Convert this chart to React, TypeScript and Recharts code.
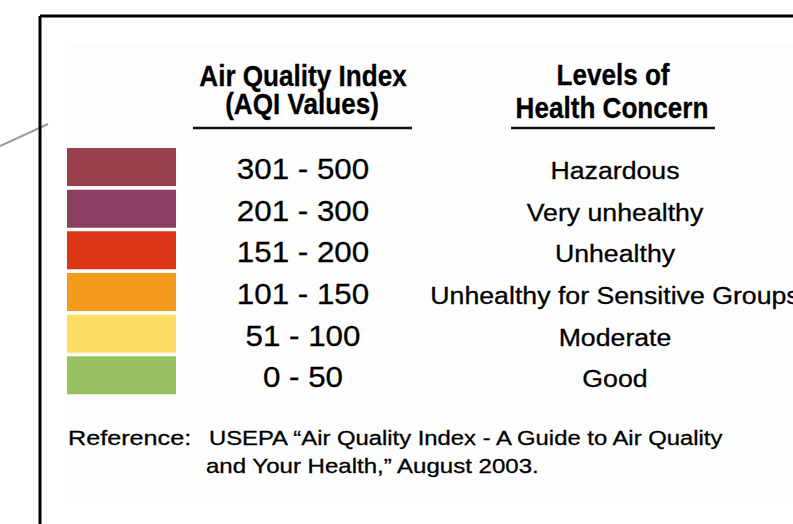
import { BarChart, Bar, XAxis, YAxis, Cell, LabelList } from 'recharts';

// AQI bands, top row first
const ranges = ['301 - 500', '201 - 300', '151 - 200', '101 - 150', '51 - 100', '0 - 50'];
const levels = ['Hazardous', 'Very unhealthy', 'Unhealthy', 'Unhealthy for Sensitive Groups', 'Moderate', 'Good'];
const swatchColors = ['#973F4B', '#8B3E5F', '#DB3416', '#F39C1C', '#FCDC62', '#97C062'];
const swatchFill = [1, 1, 1, 1, 1, 1];

const aqiHeader = ['Air Quality Index', '(AQI Values)'];
const levelHeader = ['Levels of', 'Health Concern'];
const refLabel = 'Reference:';
const refLines = ['USEPA \u201CAir Quality Index - A Guide to Air Quality', 'and Your Health,\u201D August 2003.'];

const data = ranges.map((r, i) => ({ range: r, level: levels[i], value: swatchFill[i] }));

const FONT = "'Liberation Sans', Arial, Helvetica, sans-serif";

function Txt({ x, y, size, sx = 1, bold = false, anchor = 'middle', children }: any) {
  return (
    <text transform={`translate(${x},${y}) scale(${sx},1)`} fontSize={size} fontWeight={bold ? 700 : 400}
          fontFamily={FONT} textAnchor={anchor} fill="#000" stroke="#000" strokeWidth={0.3}>{children}</text>
  );
}

const renderRange = (p: any) => (
  <Txt x={p.x + p.width + 127} y={p.y + p.height / 2 + 12} size={29} sx={1.08}>{p.value}</Txt>
);
const renderLevel = (p: any) => (
  <Txt x={p.x + p.width + 439} y={p.y + p.height / 2 + 12} size={24.5} sx={1.09}>{p.value}</Txt>
);

export default function App() {
  return (
    <div style={{ position: 'absolute', left: 0, top: 0, width: 793, height: 524, background: '#fff' }}>
      <BarChart width={793} height={524} data={data} layout="vertical"
                margin={{ top: 146, right: 617, bottom: 128, left: 67 }} barCategoryGap={2}>
        <rect x={66} y={44} width={727} height={458} fill="#fdfdfe" />
        <line x1={0} y1={146} x2={48} y2={124} stroke="#9a9a9a" strokeWidth={2} />
        <line x1={40} y1={16} x2={793} y2={16} stroke="#000" strokeWidth={3} />
        <line x1={40} y1={16} x2={40} y2={524} stroke="#000" strokeWidth={3} />
        <XAxis type="number" domain={[0, 1]} hide />
        <YAxis type="category" dataKey="range" hide />
        <Bar dataKey="value" isAnimationActive={false}>
          {data.map((d, i) => <Cell key={d.range} fill={swatchColors[i]} />)}
          <LabelList dataKey="range" content={renderRange} />
          <LabelList dataKey="level" content={renderLevel} />
        </Bar>
        <Txt x={303} y={86} size={30} sx={0.87} bold>{aqiHeader[0]}</Txt>
        <Txt x={302} y={114} size={30} sx={0.87} bold>{aqiHeader[1]}</Txt>
        <line x1={193} y1={128} x2={412} y2={128} stroke="#111" strokeWidth={2.5} />
        <Txt x={613} y={85} size={30} sx={0.87} bold>{levelHeader[0]}</Txt>
        <Txt x={612} y={118} size={30} sx={0.87} bold>{levelHeader[1]}</Txt>
        <line x1={511} y1={128} x2={715} y2={128} stroke="#111" strokeWidth={2.5} />
        <Txt x={68} y={445} size={21} sx={1.2} anchor="start">{refLabel}</Txt>
        <Txt x={209} y={445} size={21} sx={1.135} anchor="start">{refLines[0]}</Txt>
        <Txt x={206} y={473} size={21} sx={1.145} anchor="start">{refLines[1]}</Txt>
      </BarChart>
    </div>
  );
}
